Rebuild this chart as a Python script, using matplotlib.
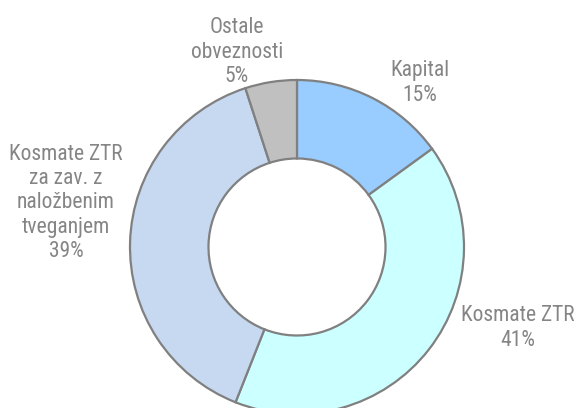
"""Donut chart: structure of liabilities (Kapital, Kosmate ZTR, ...)."""
import matplotlib
matplotlib.use('Agg')
import matplotlib.pyplot as plt

plt.rcParams['font.family'] = ['Roboto Condensed', 'Liberation Sans',
                               'DejaVu Sans']

labels = ['Kapital', 'Kosmate ZTR',
          'Kosmate ZTR\nza zav. z\nnaložbenim\ntveganjem',
          'Ostale\nobveznosti']
shares = [15, 41, 39, 5]
colors = ['#99ccff', '#ccffff', '#c6d9f1', '#c0c0c0']

# layout (pixel coords, y up) -- not data
W, H = 576, 408
CENTER = (297, 161)
RADIUS = 167
HOLE = 0.47
label_pos = [(420, 325), (518, 80), (66, 205), (237, 356)]


def main():
    fig = plt.figure(figsize=(W / 100, H / 100), dpi=100)
    ax = fig.add_axes([0, 0, 1, 1])
    ax.pie(shares, colors=colors, startangle=90, counterclock=False,
           center=CENTER, radius=RADIUS,
           wedgeprops=dict(width=RADIUS * HOLE, edgecolor='#808080',
                           linewidth=1.6))
    for lab, val, (x, y) in zip(labels, shares, label_pos):
        ax.text(x, y, f'{lab}\n{val}%', ha='center', va='center',
                fontsize=15.5, color='#858585', linespacing=1.2)
    ax.set_xlim(0, W)
    ax.set_ylim(0, H)
    ax.set_aspect('auto')
    ax.axis('off')
    fig.savefig('out.png', dpi=100)
    plt.close(fig)


if __name__ == '__main__':
    main()
